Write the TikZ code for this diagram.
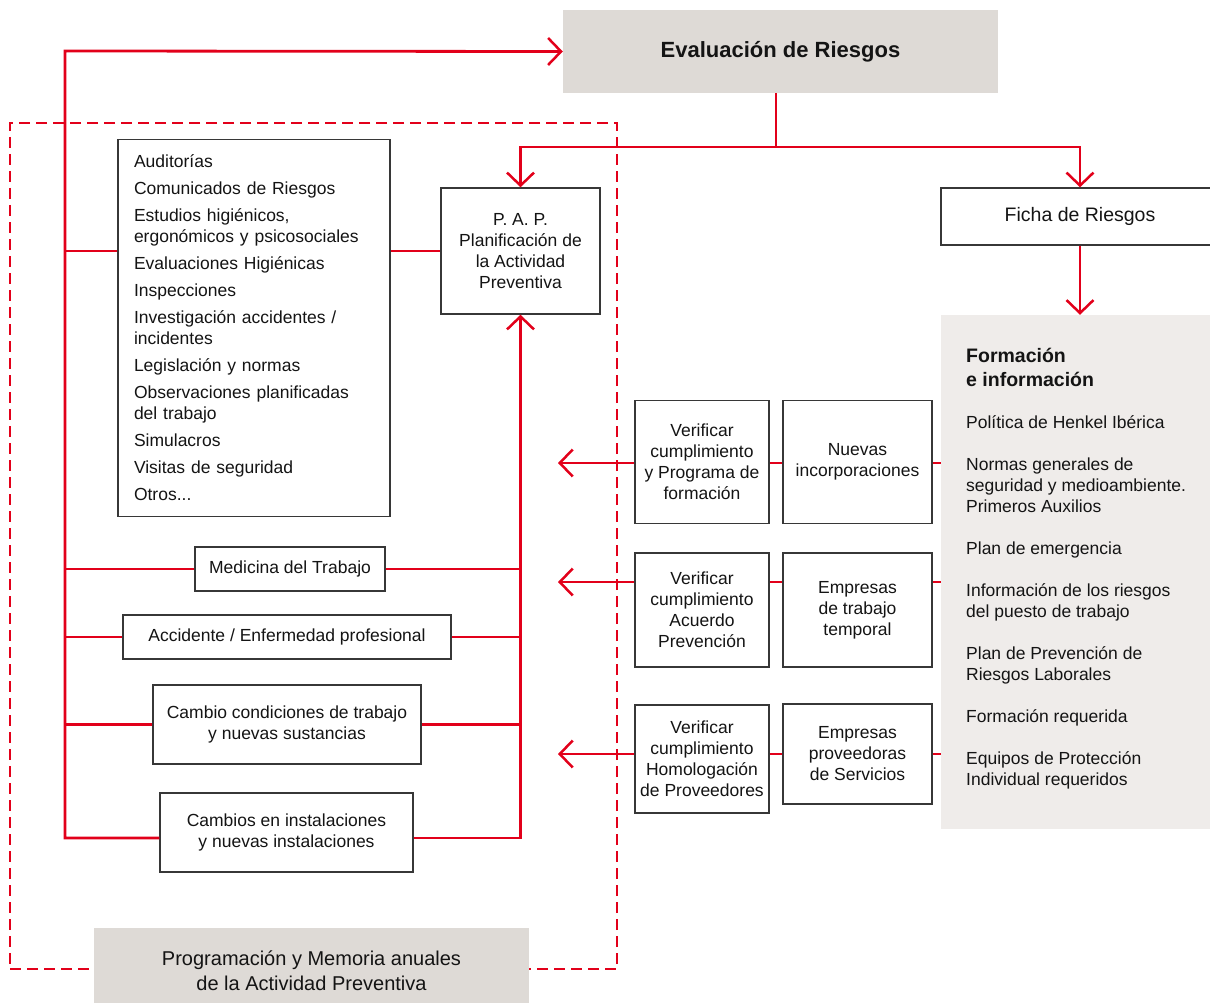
\documentclass[tikz,border=0pt]{standalone}
\usepackage{fontspec}
\setmainfont{Liberation Sans}
\usetikzlibrary{arrows.meta}
\definecolor{hred}{RGB}{226,0,26}
\definecolor{evgray}{RGB}{222,218,214}
\definecolor{pgray}{RGB}{239,236,234}
\definecolor{bdr}{RGB}{55,55,55}
\definecolor{txt}{RGB}{20,20,20}
\begin{document}
\begin{tikzpicture}[x=1pt,y=-1pt,
  every node/.style={text=txt},
  bodyfont/.style={font=\fontsize{17.5}{21}\selectfont},
  box/.style={draw=bdr,line width=1.4pt,fill=white,inner sep=0pt,align=center,bodyfont},
  rl/.style={draw=hred,line width=2.8pt,line join=miter},
  arr/.style={rl,-{Straight Barb[length=13pt,width=27pt,line width=2.5pt]}},
]
\useasboundingbox (0,0) rectangle (1210,1003);

% dashed frame
\node[draw=hred,dash pattern=on 11pt off 6pt,line width=1.5pt,inner sep=0pt,
      minimum width=607pt,minimum height=846pt] (frame) at (313.5,546) {};

% gray boxes
\node[fill=evgray,inner sep=0pt,minimum width=435pt,minimum height=83pt,
      font=\bfseries\fontsize{22}{26}\selectfont] (eval) at (780.5,51.5) {Evaluación de Riesgos};
\node[fill=evgray,inner sep=0pt,minimum width=435pt,minimum height=86pt,align=center,
      font=\fontsize{20}{25}\selectfont] (prog) at (311.5,971) {Programación y Memoria anuales\\de la Actividad Preventiva};
\node[fill=pgray,inner sep=0pt,minimum width=278pt,minimum height=514pt] (panel) at (1080,572) {};

% panel texts
\node[anchor=north west,inner sep=0pt,align=left,font=\bfseries\fontsize{19.5}{24}\selectfont]
  (ptitle) at (966,344) {\rule{0pt}{18pt}Formación\\e información};
\node[anchor=north west,inner sep=0pt,align=left,bodyfont]
  (pitems) at (966,413) {\rule{0pt}{15pt}Política de Henkel Ibérica\\[21pt]
  Normas generales de\\seguridad y medioambiente.\\Primeros Auxilios\\[21pt]
  Plan de emergencia\\[21pt]
  Información de los riesgos\\del puesto de trabajo\\[21pt]
  Plan de Prevención de\\Riesgos Laborales\\[21pt]
  Formación requerida\\[21pt]
  Equipos de Protección\\Individual requeridos};

% left boxes
\node[box,align=left,text width=240pt,minimum width=272pt,minimum height=377pt] (list) at (254,328)
  {Auditorías\\[6pt]
   Comunicados de Riesgos\\[6pt]
   Estudios higiénicos,\\ergonómicos y psicosociales\\[6pt]
   Evaluaciones Higiénicas\\[6pt]
   Inspecciones\\[6pt]
   Investigación accidentes /\\incidentes\\[6pt]
   Legislación y normas\\[6pt]
   Observaciones planificadas\\del trabajo\\[6pt]
   Simulacros\\[6pt]
   Visitas de seguridad\\[6pt]
   Otros...};
\node[box,minimum width=159pt,minimum height=126pt] (pap) at (520.5,251)
  {P. A. P.\\Planificación de\\la Actividad\\Preventiva};
\node[box,minimum width=190pt,minimum height=44pt] (med) at (290,569) {Medicina del Trabajo};
\node[box,minimum width=328pt,minimum height=44pt] (acc) at (287,637) {Accidente / Enfermedad profesional};
\node[box,minimum width=268pt,minimum height=79pt] (cam) at (287,724.5) {Cambio condiciones de trabajo\\y nuevas sustancias};
\node[box,minimum width=253pt,minimum height=79pt] (cams) at (286.5,832.5) {Cambios en instalaciones\\y nuevas instalaciones};

% right boxes
\node[box,minimum width=278pt,minimum height=57pt,font=\fontsize{19.5}{23}\selectfont] (ficha) at (1080,216.5) {Ficha de Riesgos};
\node[box,minimum width=134pt,minimum height=123pt] (v1) at (702,462) {Verificar\\cumplimiento\\y Programa de\\formación};
\node[box,minimum width=149pt,minimum height=123pt] (n1) at (857.5,462) {Nuevas\\incorporaciones};
\node[box,minimum width=134pt,minimum height=114pt] (v2) at (702,610) {Verificar\\cumplimiento\\Acuerdo\\Prevención};
\node[box,minimum width=149pt,minimum height=114pt] (e2) at (857.5,610) {Empresas\\de trabajo\\temporal};
\node[box,minimum width=134pt,minimum height=108pt] (v3) at (702,759) {Verificar\\cumplimiento\\Homologación\\de Proveedores};
\node[box,minimum width=149pt,minimum height=100pt] (e3) at (857.5,754) {Empresas\\proveedoras\\de Servicios};

% coordinates
\coordinate (tl) at (65,51);
\coordinate (bl) at (65,838);
\coordinate (br) at (520.5,838);
\coordinate (sp) at (776,147);
\coordinate (t1) at (558,463);
\coordinate (t2) at (558,582);
\coordinate (t3) at (558,754);

% left loop
\draw[arr] (cams.west |- bl) -- (bl) -- (tl) -- (eval.west);
\draw[arr] (cams.east |- br) -- (br) -- (pap.south);
\draw[rl] (pap.west -| list.west) -- (pap.west -| bl);
\draw[rl] (pap.west -| list.east) -- (pap.west);
\draw[rl] (med.west) -- (med.west -| bl);
\draw[rl] (med.east) -- (med.east -| br);
\draw[rl] (acc.west) -- (acc.west -| bl);
\draw[rl] (acc.east) -- (acc.east -| br);
\draw[rl] (cam.west) -- (cam.west -| bl);
\draw[rl] (cam.east) -- (cam.east -| br);

% top split
\draw[rl] (eval.south -| sp) -- (sp);
\draw[arr] (sp) -| (pap.north);
\draw[arr] (sp) -| (ficha.north);
\draw[arr] (ficha.south) -- (ficha.south |- panel.north);

% rows
\draw[rl] (panel.west |- t1) -- (n1.east |- t1);
\draw[rl] (n1.west |- t1) -- (v1.east |- t1);
\draw[arr] (v1.west |- t1) -- (t1);
\draw[rl] (panel.west |- t2) -- (e2.east |- t2);
\draw[rl] (e2.west |- t2) -- (v2.east |- t2);
\draw[arr] (v2.west |- t2) -- (t2);
\draw[rl] (panel.west |- t3) -- (e3.east |- t3);
\draw[rl] (e3.west |- t3) -- (v3.east |- t3);
\draw[arr] (v3.west |- t3) -- (t3);
\end{tikzpicture}
\end{document}
